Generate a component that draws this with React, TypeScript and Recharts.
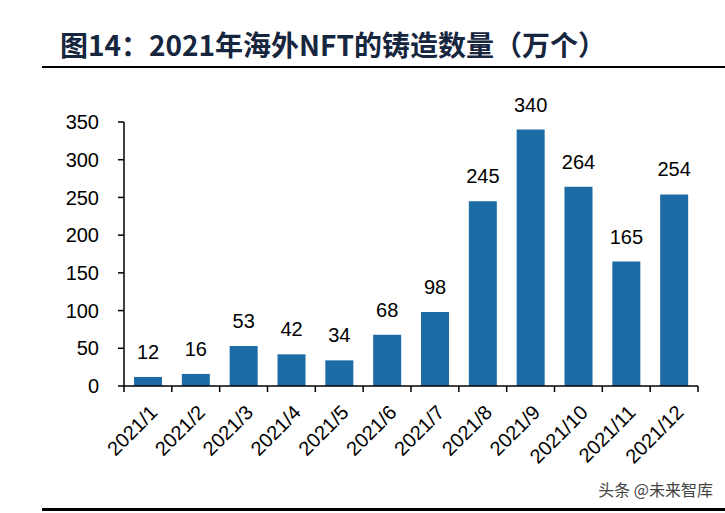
import { BarChart, Bar, XAxis, YAxis, LabelList } from 'recharts';

const months = ['2021/1', '2021/2', '2021/3', '2021/4', '2021/5', '2021/6', '2021/7', '2021/8', '2021/9', '2021/10', '2021/11', '2021/12'];
const minted = [12, 16, 53, 42, 34, 68, 98, 245, 340, 264, 165, 254];
const yTicks = [0, 50, 100, 150, 200, 250, 300, 350];

const data = months.map((month, i) => ({ month, value: minted[i] }));

const font = '"Liberation Sans", Arial, sans-serif';
const chartW = 725;
const axisW = 124;
const rightM = 27;
const band = (chartW - axisW - rightM) / months.length;

function MonthTick(props: any) {
  const { x, y, payload, index } = props;
  const last = index === months.length - 1;
  return (
    <g>
      <line x1={x - band / 2} x2={x - band / 2} y1={y} y2={y + 6} stroke="#000" strokeWidth={1.5} />
      {last && <line x1={x + band / 2} x2={x + band / 2} y1={y} y2={y + 6} stroke="#000" strokeWidth={1.5} />}
      <g transform={`translate(${x + 7},${y + 24})`}>
        <text transform="rotate(-45)" textAnchor="end" dominantBaseline="middle" fontSize={20} fill="#000" fontFamily={font}>
          {payload.value}
        </text>
      </g>
    </g>
  );
}

export default function App() {
  return (
    <div style={{ position: 'absolute', left: 0, top: 0, width: 725, height: 513, background: '#fff', overflow: 'hidden' }}>
      <div
        style={{
          position: 'absolute',
          left: 60,
          top: 27,
          fontSize: 28,
          fontWeight: 'bold',
          color: '#17263f',
          fontFamily: '"Noto Sans CJK SC", "Liberation Sans", sans-serif',
          whiteSpace: 'nowrap',
          lineHeight: '34px',
        }}
      >
        图14：2021年海外NFT的铸造数量（万个）
      </div>
      <div style={{ position: 'absolute', left: 42, top: 66, width: 683, height: 2, background: '#000' }} />
      <BarChart
        width={chartW}
        height={513}
        data={data}
        margin={{ top: 122, right: rightM, left: 0, bottom: 0 }}
        barSize={28}
      >
        <XAxis
          dataKey="month"
          height={127}
          interval={0}
          tick={<MonthTick />}
          axisLine={{ stroke: '#000', strokeWidth: 1.5 }}
          tickLine={false}
          tickSize={0}
          tickMargin={0}
        />
        <YAxis
          width={axisW}
          domain={[0, 350]}
          ticks={yTicks}
          interval={0}
          tick={{ fontSize: 20, fill: '#000', fontFamily: font }}
          axisLine={{ stroke: '#000', strokeWidth: 1.5 }}
          tickLine={{ stroke: '#000', strokeWidth: 1.5 }}
          tickSize={6}
          tickMargin={19}
        />
        <Bar dataKey="value" fill="#1c6ba5" isAnimationActive={false}>
          <LabelList dataKey="value" position="top" offset={18} fontSize={20} fill="#000" fontFamily={font} />
        </Bar>
      </BarChart>
      <div
        style={{
          position: 'absolute',
          right: 12,
          top: 477,
          fontSize: 16,
          color: '#444',
          fontFamily: '"Noto Sans CJK SC", sans-serif',
        }}
      >
        头条 @未来智库
      </div>
      <div style={{ position: 'absolute', left: 42, top: 508, width: 683, height: 3, background: '#000' }} />
    </div>
  );
}
